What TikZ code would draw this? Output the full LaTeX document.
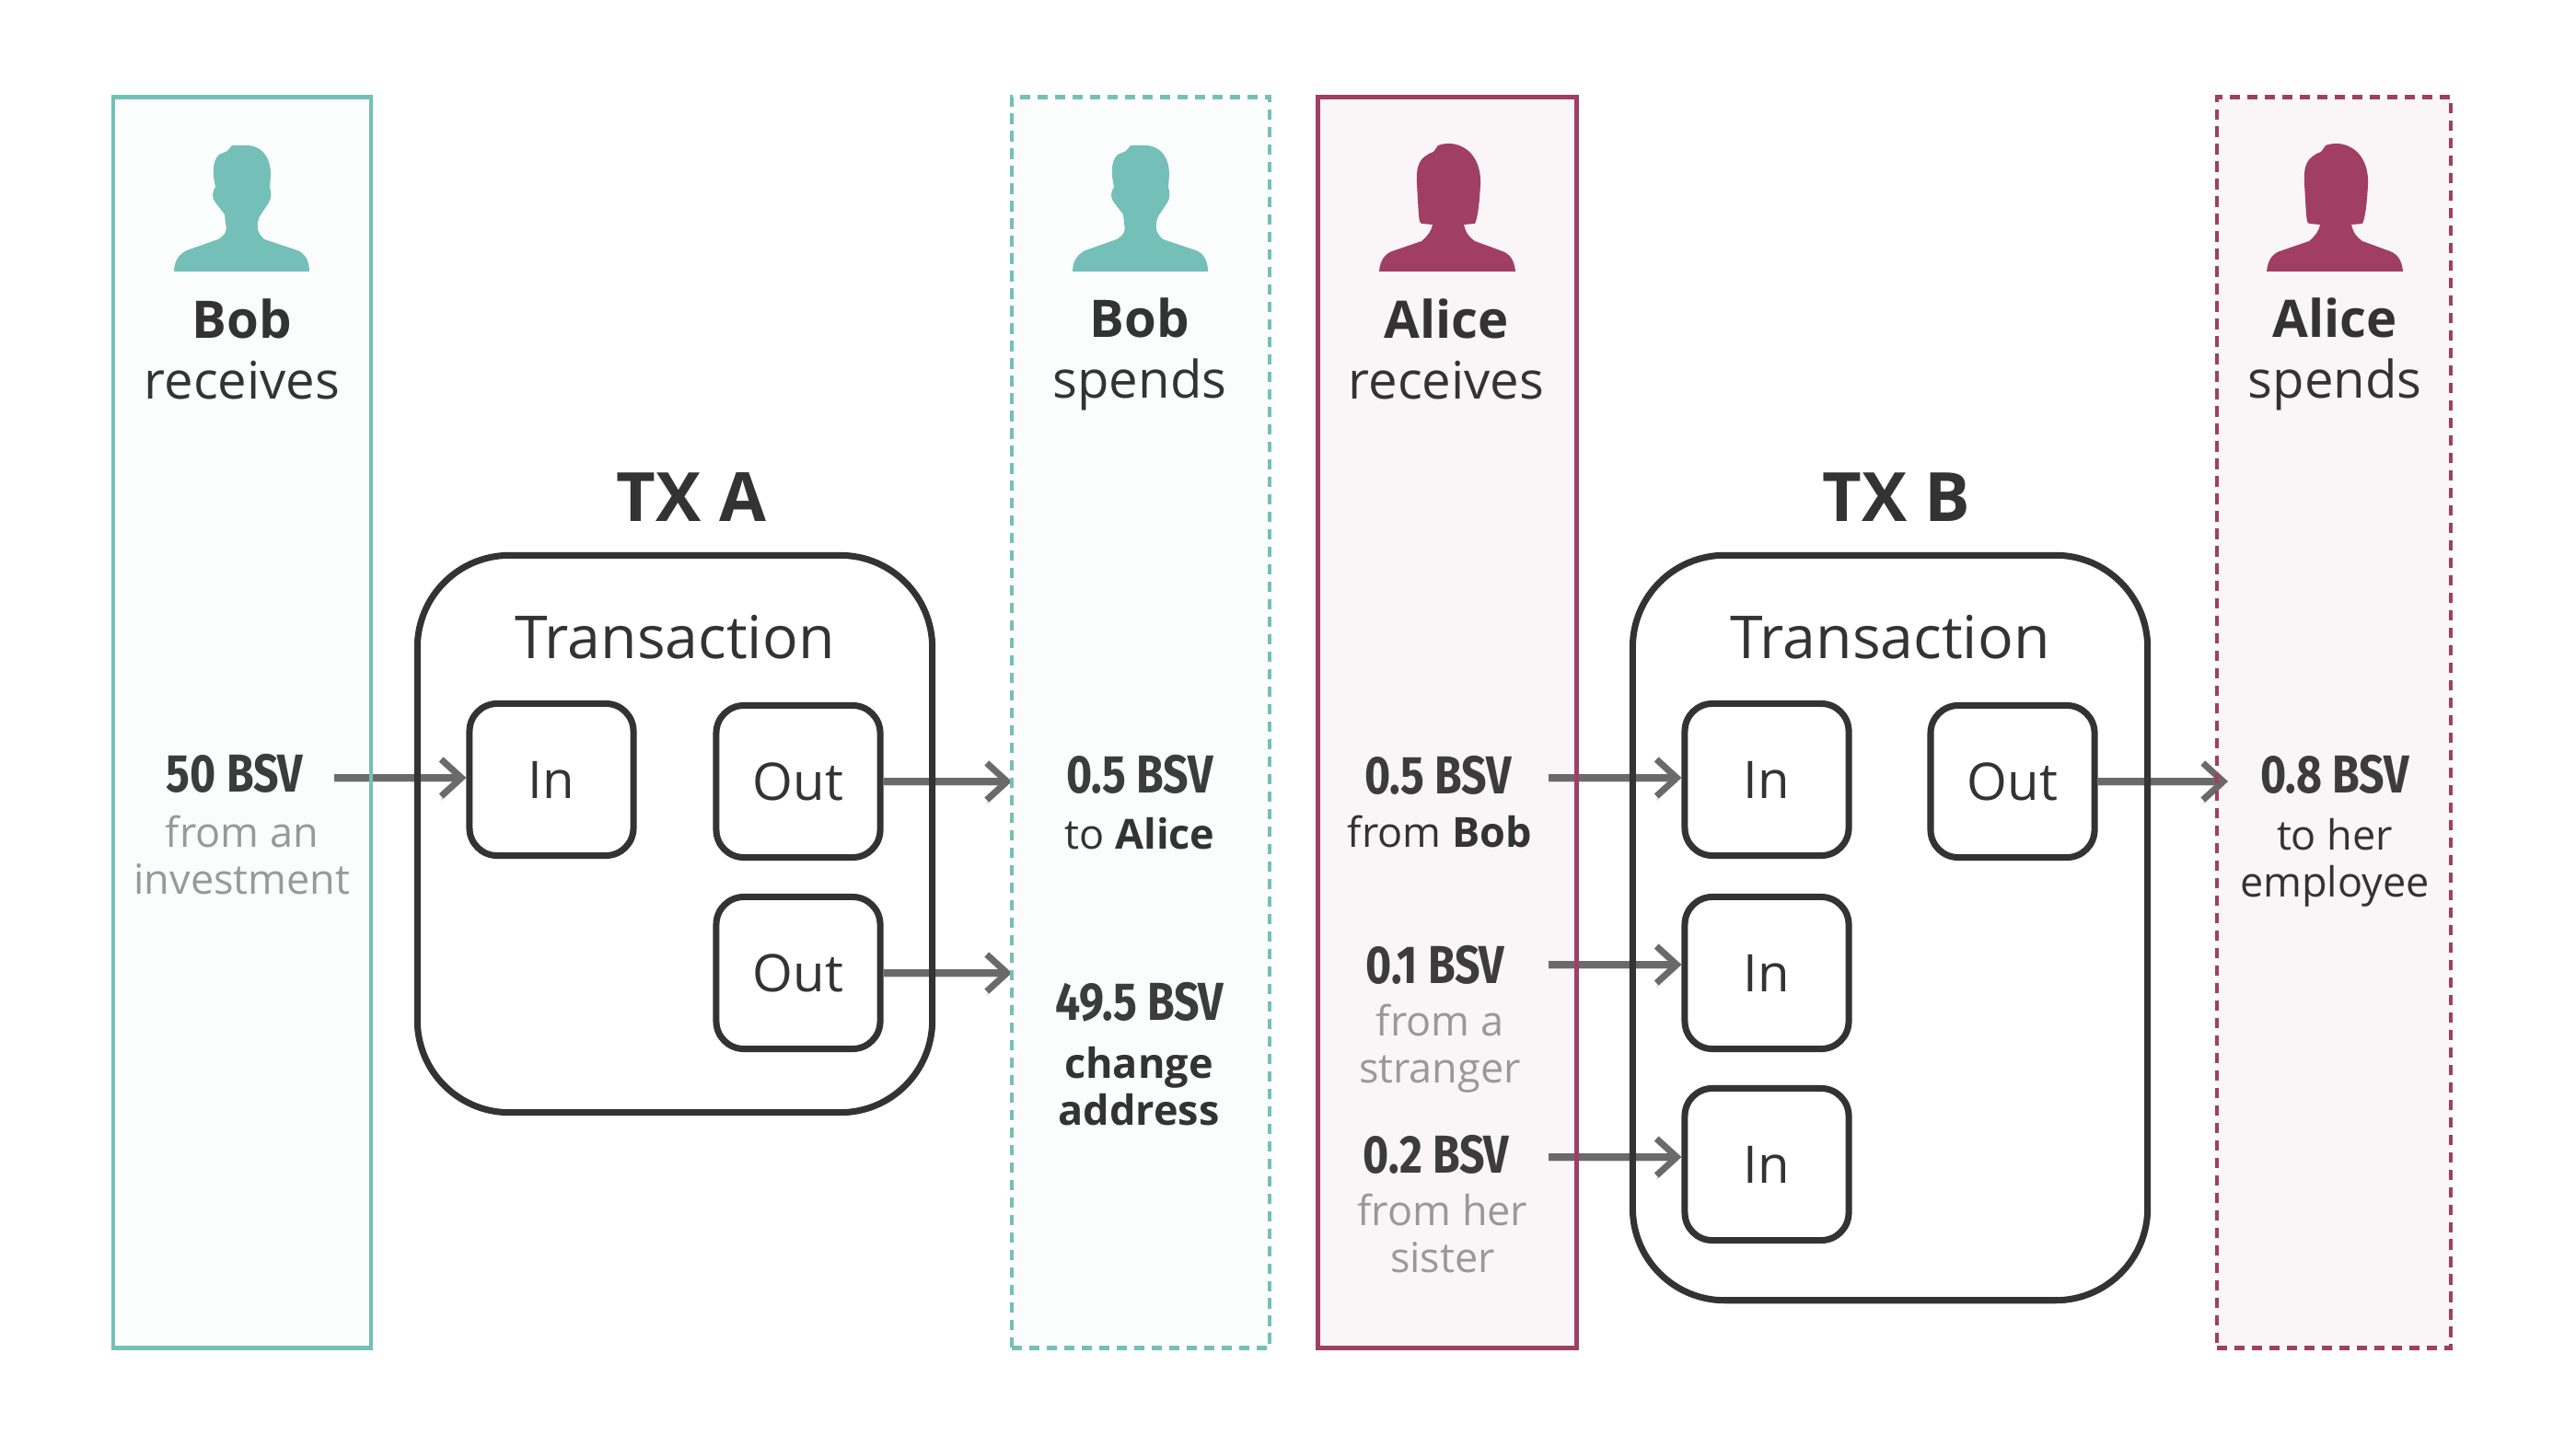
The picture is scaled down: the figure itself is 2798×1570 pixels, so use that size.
\documentclass[tikz,border=0pt]{standalone}
\usepackage{fontspec}
\setmainfont{Open Sans}
\newfontfamily\amountfont[FakeStretch=0.83]{Fira Sans}
\usepackage{tikz}
\usetikzlibrary{arrows.meta, backgrounds}

\definecolor{bobcolor}{HTML}{74C0B8}
\definecolor{alicecolor}{HTML}{A03F62}
\definecolor{inkcolor}{HTML}{333333}
\definecolor{amountcolor}{HTML}{3C3C3C}
\definecolor{arrowcolor}{HTML}{6A6A6A}
\definecolor{softcolor}{HTML}{999999}

\tikzset{
        bobcolumn/.style={draw=bobcolor, fill=bobcolor, fill opacity=.03, line width=1.3pt, minimum height=13.58cm, inner sep=0pt},
        alicecolumn/.style={draw=alicecolor, fill=alicecolor, fill opacity=.05, line width=1.3pt, minimum height=13.58cm, inner sep=0pt},
        txbox/.style={draw=inkcolor, line width=2pt, rounded corners=1cm, minimum width=5.59cm, inner sep=0pt},
        slot/.style={draw=inkcolor, line width=2pt, rounded corners=.3cm, minimum width=1.78cm, minimum height=1.65cm, font=\fontsize{16}{20}\selectfont, text=inkcolor},
        flow/.style={draw=arrowcolor, line width=2pt, -{Straight Barb[length=2.2mm, width=4mm, line width=2pt]}, preaction={draw=black, draw opacity=.15, transform canvas={yshift=-1.2pt}}},
        who/.style={font=\fontsize{16}{18.8}\selectfont, align=center, text=inkcolor, inner sep=0pt},
        title/.style={font=\fontsize{21}{26}\selectfont\bfseries, text=inkcolor, inner sep=0pt},
        heading/.style={font=\fontsize{18.3}{24}\selectfont, text=inkcolor, inner sep=0pt},
        amount/.style={font=\fontsize{16.5}{18}\amountfont\bfseries, text=amountcolor, inner sep=0pt},
        note/.style={font=\fontsize{12.8}{14.6}\selectfont, align=center, text=inkcolor, inner sep=0pt},
        softnote/.style={note, text=softcolor},
        boldnote/.style={note, font=\fontsize{12.8}{14.6}\selectfont\bfseries},
        pics/bobicon/.style={code={
                \fill[bobcolor] (-74,0) .. controls (-74,-14) and (-66,-20) .. (-60,-23) -- (-26,-35) .. controls (-18,-40) and (-16,-44) .. (-18,-52) -- (-19,-62) -- (-29,-75) .. controls (-33,-80) and (-33,-86) .. (-29,-92) .. controls (-32,-105) and (-33,-120) .. (-25,-127) -- (-16,-131) -- (-11,-137) -- (7,-137) .. controls (24,-135) and (31,-122) .. (31,-105) -- (30,-92) .. controls (32,-85) and (32,-80) .. (29,-75) -- (19,-60) .. controls (15,-50) and (16,-42) .. (24,-35) -- (60,-23) .. controls (68,-20) and (73,-12) .. (73,0) -- cycle;
        }},
        pics/aliceicon/.style={code={
                \fill[alicecolor] (-74,0) .. controls (-73,-12) and (-68,-19) .. (-60,-22) -- (-28,-33) .. controls (-22,-38) and (-17,-44) .. (-16,-51) -- (-28,-52) .. controls (-31,-52) and (-31,-60) .. (-33,-95) .. controls (-34,-115) and (-31,-124) .. (-15,-130) -- (-10,-137) .. controls (-5,-139) and (0,-139) .. (4,-139) .. controls (24,-137) and (37,-120) .. (36,-95) .. controls (35,-75) and (33,-58) .. (30,-52) -- (18,-51) .. controls (20,-42) and (24,-37) .. (30,-33) -- (60,-22) .. controls (68,-19) and (73,-12) .. (74,0) -- cycle;
        }},
}

\begin{document}
\begin{tikzpicture}[x=.01cm, y=-.01cm]
        \useasboundingbox (0,0) rectangle (2798,1570);

        % columns
        \node[bobcolumn, minimum width=2.80cm] (bobin) at (263,785) {};
        \node[bobcolumn, minimum width=2.80cm, dashed, dash pattern=on 3.2pt off 2.2pt] (bobout) at (1239,785) {};
        \node[alicecolumn, minimum width=2.81cm] (alicein) at (1572,785) {};
        \node[alicecolumn, minimum width=2.54cm, dashed, dash pattern=on 3.2pt off 2.2pt] (aliceout) at (2535,785) {};

        \pic at (263,295) {bobicon};
        \pic at (1239,295) {bobicon};
        \pic at (1572,295) {aliceicon};
        \pic at (2536,295) {aliceicon};

        \node[who] (bobinname) at (263,379) {\textbf{Bob}\\receives};
        \node[who] (oboutname) at (1238,385) {\textbf{Bob}\\spends};
        \node[who] (aliceinname) at (1571,379) {\textbf{Alice}\\receives};
        \node[who] (aliceoutname) at (2536,385) {\textbf{Alice}\\spends};

        % TX A
        \node[title] (titlea) at (751,540) {TX A};
        \node[txbox, minimum height=6.05cm] (txa) at (733,906) {};
        \node[heading] (heada) at (733,692) {Transaction};
        \node[slot] (ina) at (599,847) {In};
        \node[slot] (outa) at (867,849) {Out};
        \node[slot] (outb) at (867,1057) {Out};

        % TX B
        \node[title] (titleb) at (2060,540) {TX B};
        \node[txbox, minimum height=8.09cm] (txb) at (2053,1008) {};
        \node[heading] (headb) at (2053,692) {Transaction};
        \node[slot] (inb) at (1919,847) {In};
        \node[slot] (inc) at (1919,1057) {In};
        \node[slot] (ind) at (1919,1265) {In};
        \node[slot] (outc) at (2186,849) {Out};

        % amounts
        \node[amount] (amta) at (255,840) {50 BSV};
        \node[softnote] (notea) at (263,929) {from an\\investment};

        \node[amount] (amtb) at (1238,841) {0.5 BSV};
        \node[note] (noteb) at (1238,906) {to \textbf{Alice}};
        \node[amount] (amtc) at (1238,1089) {49.5 BSV};
        \node[boldnote] (notec) at (1237,1180) {change\\address};

        \node[amount] (amtd) at (1562,842) {0.5 BSV};
        \node[note] (noted) at (1564,903) {from \textbf{Bob}};
        \node[amount] (amte) at (1559,1048) {0.1 BSV};
        \node[softnote] (notee) at (1564,1139) {from a\\stranger};
        \node[amount] (amtf) at (1560,1254) {0.2 BSV};
        \node[softnote] (notef) at (1567,1340) {from her\\sister};

        \node[amount] (amtg) at (2536,841) {0.8 BSV};
        \node[note] (noteg) at (2536,937) {to her\\employee};

        % free ends of the arrows
        \coordinate (froma) at (363,845);
        \coordinate (fromd) at (1682,845);
        \coordinate (frome) at (1682,1048);
        \coordinate (fromf) at (1682,1257);
        \coordinate (tob) at (1099,849);
        \coordinate (toc) at (1099,1057);
        \coordinate (tog) at (2420,849);

        \begin{scope}[on background layer]
        \draw[flow] (froma) -- (froma -| ina.west);
        \draw[flow] (outa) -- (tob);
        \draw[flow] (outb) -- (toc);
        \draw[flow] (fromd) -- (fromd -| inb.west);
        \draw[flow] (frome) -- (frome -| inc.west);
        \draw[flow] (fromf) -- (fromf -| ind.west);
        \draw[flow] (outc) -- (tog);
        \end{scope}
\end{tikzpicture}
\end{document}
